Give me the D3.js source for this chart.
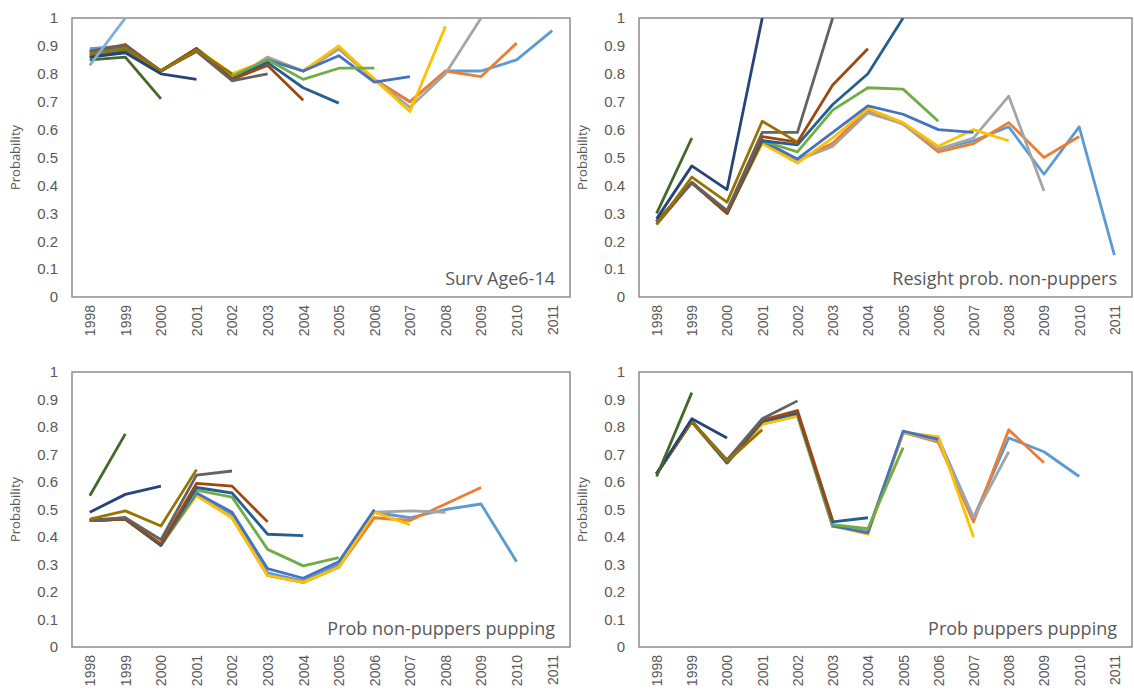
<!DOCTYPE html>
<html><head><meta charset="utf-8">
<script src="https://cdn.jsdelivr.net/npm/d3@7"></script>
<style>body{margin:0;background:#fff}</style>
</head><body><div id="vis"></div>
<script>
var years = ["1998","1999","2000","2001","2002","2003","2004","2005","2006","2007","2008","2009","2010","2011"];
var yTicks = [0,0.1,0.2,0.3,0.4,0.5,0.6,0.7,0.8,0.9,1];
// series colours, from longest retrospective run to shortest
var colors = ["#5B9BD5","#ED7D31","#A5A5A5","#FFC000","#4472C4","#70AD47","#255E91","#9E480E","#636363","#997300","#264478","#43682B","#7CAFE0"];
var titles = ["Surv Age6-14","Resight prob. non-puppers","Prob non-puppers pupping","Prob puppers pupping"];

var survAge = [
	[0.89,0.90,0.81,0.89,0.79,0.85,0.81,0.89,0.78,0.70,0.81,0.81,0.85,0.955],
	[0.88,0.90,0.81,0.89,0.79,0.85,0.81,0.89,0.78,0.70,0.81,0.79,0.91],
	[0.88,0.89,0.81,0.89,0.78,0.86,0.81,0.89,0.78,0.68,0.80,1.0],
	[0.88,0.89,0.81,0.89,0.80,0.85,0.81,0.90,0.78,0.665,0.97],
	[0.87,0.89,0.81,0.89,0.79,0.85,0.81,0.865,0.77,0.79],
	[0.87,0.89,0.81,0.89,0.79,0.85,0.78,0.82,0.82],
	[0.86,0.88,0.81,0.89,0.78,0.84,0.75,0.695],
	[0.88,0.905,0.81,0.89,0.78,0.83,0.705],
	[0.88,0.90,0.81,0.88,0.775,0.80],
	[0.87,0.89,0.81,0.885,0.80],
	[0.86,0.875,0.80,0.78],
	[0.85,0.86,0.71],
	[0.83,1.0]
];
var resight = [
	[0.27,0.41,0.30,0.56,0.49,0.55,0.67,0.62,0.53,0.56,0.61,0.44,0.61,0.15],
	[0.27,0.41,0.30,0.56,0.49,0.55,0.67,0.62,0.52,0.55,0.625,0.50,0.575],
	[0.27,0.41,0.31,0.56,0.49,0.54,0.66,0.62,0.53,0.57,0.72,0.38],
	[0.27,0.41,0.30,0.55,0.48,0.57,0.675,0.625,0.54,0.60,0.56],
	[0.27,0.41,0.30,0.56,0.495,0.59,0.685,0.655,0.60,0.59],
	[0.27,0.41,0.30,0.56,0.52,0.67,0.75,0.745,0.63],
	[0.27,0.41,0.30,0.56,0.545,0.69,0.80,1.0],
	[0.26,0.41,0.30,0.575,0.555,0.76,0.89],
	[0.27,0.41,0.31,0.59,0.59,1.0],
	[0.26,0.43,0.34,0.63,0.555],
	[0.28,0.47,0.385,1.0],
	[0.30,0.57]
];
var nonPupPupping = [
	[0.46,0.47,0.37,0.56,0.48,0.27,0.24,0.30,0.49,0.47,0.50,0.52,0.31],
	[0.46,0.465,0.37,0.555,0.47,0.26,0.235,0.29,0.47,0.46,0.52,0.58],
	[0.46,0.465,0.37,0.555,0.47,0.26,0.235,0.29,0.49,0.495,0.49],
	[0.46,0.465,0.37,0.55,0.47,0.26,0.235,0.29,0.49,0.445],
	[0.46,0.465,0.37,0.56,0.49,0.285,0.25,0.31,0.50],
	[0.46,0.465,0.37,0.57,0.545,0.355,0.295,0.325],
	[0.46,0.465,0.37,0.58,0.56,0.41,0.405],
	[0.46,0.465,0.375,0.595,0.585,0.455],
	[0.46,0.47,0.39,0.625,0.64],
	[0.465,0.495,0.44,0.645],
	[0.49,0.555,0.585],
	[0.55,0.775]
];
var pupPupping = [
	[0.63,0.82,0.67,0.82,0.85,0.44,0.42,0.78,0.76,0.47,0.76,0.71,0.62],
	[0.63,0.82,0.67,0.81,0.84,0.44,0.42,0.78,0.745,0.455,0.79,0.67],
	[0.63,0.82,0.67,0.82,0.84,0.44,0.42,0.78,0.75,0.47,0.71],
	[0.63,0.82,0.67,0.81,0.84,0.44,0.41,0.78,0.765,0.40],
	[0.63,0.82,0.67,0.82,0.85,0.44,0.415,0.785,0.755],
	[0.63,0.82,0.67,0.82,0.85,0.445,0.43,0.725],
	[0.63,0.82,0.67,0.82,0.85,0.455,0.47],
	[0.63,0.82,0.675,0.825,0.86,0.46],
	[0.63,0.82,0.68,0.83,0.895],
	[0.63,0.82,0.675,0.79],
	[0.63,0.83,0.76],
	[0.62,0.925]
];
var panelData = [survAge, resight, nonPupPupping, pupPupping];

var W = 1134, H = 697;
var panels = [
	{ left: 72, top: 18, w: 498, h: 279 },
	{ left: 639, top: 18, w: 493, h: 279 },
	{ left: 72, top: 372, w: 498, h: 275 },
	{ left: 639, top: 372, w: 493, h: 275 }
];

var svg = d3.select('#vis').append('svg').attr('width', W).attr('height', H)
	.style('font-family', '"Open Sans", sans-serif');

panels.forEach(function (p, k) {
	var x = d3.scalePoint().domain(years).range([0, p.w]).padding(0.5);
	var y = d3.scaleLinear().domain([0, 1]).range([p.h, 0]);
	var g = svg.append('g').attr('transform', 'translate(' + p.left + ',' + p.top + ')');

	g.append('clipPath').attr('id', 'clip' + k).append('rect')
		.attr('width', p.w).attr('height', p.h);

	g.append('rect').attr('width', p.w).attr('height', p.h)
		.attr('fill', 'none').attr('stroke', '#8c8c8c').attr('stroke-width', 1.5);

	var ya = g.append('g').call(d3.axisLeft(y).tickValues(yTicks).tickFormat(d3.format('~g')).tickSize(0).tickPadding(14));
	ya.select('.domain').remove();
	ya.selectAll('text').attr('fill', '#595959').style('font-size', '15px');

	var xa = g.append('g').attr('transform', 'translate(0,' + p.h + ')')
		.call(d3.axisBottom(x).tickSize(0));
	xa.select('.domain').remove();
	xa.selectAll('text').attr('fill', '#595959').style('font-size', '14px')
		.attr('text-anchor', 'end').attr('transform', 'rotate(-90)')
		.attr('x', -8).attr('y', 0).attr('dy', '0.35em');

	g.append('text').attr('transform', 'translate(' + (-52) + ',' + (p.h / 2) + ') rotate(-90)')
		.attr('text-anchor', 'middle').attr('fill', '#595959').style('font-size', '13px')
		.text('Probability');

	var line = d3.line().x(function (d, i) { return x(years[i]); }).y(function (d) { return y(d); });
	var lg = g.append('g').attr('clip-path', 'url(#clip' + k + ')');
	lg.selectAll('path').data(panelData[k]).enter().append('path')
		.attr('d', line).attr('fill', 'none')
		.attr('stroke', function (d, i) { return colors[i]; })
		.attr('stroke-width', 2.8).attr('stroke-linejoin', 'round');

	g.append('text').attr('x', p.w - 15).attr('y', p.h - 12)
		.attr('text-anchor', 'end').attr('fill', '#595959').style('font-size', '18px')
		.text(titles[k]);
});
</script>
</body></html>
